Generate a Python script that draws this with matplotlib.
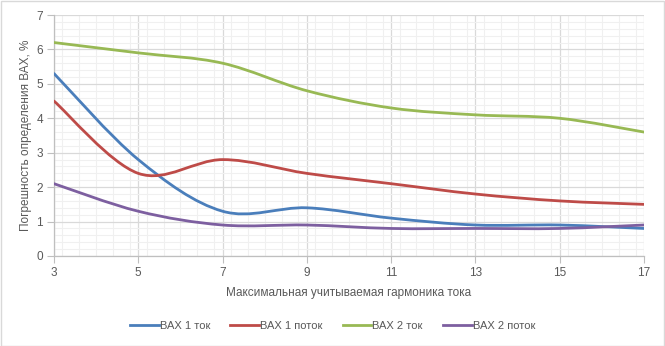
import matplotlib
matplotlib.use("Agg")
import matplotlib.pyplot as plt
from matplotlib.path import Path
from matplotlib.patches import PathPatch, Rectangle
from matplotlib.lines import Line2D
from matplotlib.ticker import MultipleLocator

plt.rcParams['font.family'] = ['Liberation Sans', 'DejaVu Sans']

harmonics = [3, 5, 7, 9, 11, 13, 15, 17]
vax1_current = [5.3, 2.8, 1.3, 1.4, 1.1, 0.9, 0.9, 0.8]
vax1_flux = [4.5, 2.4, 2.8, 2.4, 2.1, 1.8, 1.6, 1.5]
vax2_current = [6.2, 5.9, 5.6, 4.8, 4.3, 4.1, 4.0, 3.6]
vax2_flux = [2.1, 1.3, 0.9, 0.9, 0.8, 0.8, 0.8, 0.9]
series_names = ["ВАХ 1 ток", "ВАХ 1 поток", "ВАХ 2 ток", "ВАХ 2 поток"]
colors = ["#4a7ebb", "#be4b48", "#98b954", "#7d5fa0"]

TEXT = "#595959"
GRID = "#d9d9d9"
MINOR = "#f0f0f0"

fig = plt.figure(figsize=(6.65, 3.46), dpi=100)
W, H = 665, 346
ax = fig.add_axes([54 / W, (H - 256) / H, (644 - 54) / W, (256 - 15) / H])


def smooth_path(xs, ys):
    # Excel-style smoothed line: cubic Bezier segments
    n = len(xs)
    verts = [(xs[0], ys[0])]
    codes = [Path.MOVETO]
    for i in range(n - 1):
        x0, y0 = (xs[i - 1], ys[i - 1]) if i > 0 else (xs[i], ys[i])
        x1, y1 = xs[i], ys[i]
        x2, y2 = xs[i + 1], ys[i + 1]
        x3, y3 = (xs[i + 2], ys[i + 2]) if i + 2 < n else (xs[i + 1], ys[i + 1])
        c1 = (x1 + (x2 - x0) / 6, y1 + (y2 - y0) / 6)
        c2 = (x2 - (x3 - x1) / 6, y2 - (y3 - y1) / 6)
        verts += [c1, c2, (x2, y2)]
        codes += [Path.CURVE4] * 3
    return Path(verts, codes)


for ys, c in zip([vax1_current, vax1_flux, vax2_current, vax2_flux], colors):
    p = PathPatch(smooth_path(harmonics, ys), facecolor="none", edgecolor=c,
                  lw=2.0, zorder=3, capstyle="round", joinstyle="round")
    ax.add_patch(p)

ax.set_xlim(3, 17)
ax.set_ylim(0, 7)
ax.xaxis.set_major_locator(MultipleLocator(2))
ax.xaxis.set_minor_locator(MultipleLocator(0.4))
ax.yaxis.set_major_locator(MultipleLocator(1))
ax.yaxis.set_minor_locator(MultipleLocator(0.2))
ax.grid(which="minor", color=MINOR, lw=0.8, zorder=0)
ax.grid(which="major", color=GRID, lw=0.9, zorder=1)
ax.set_axisbelow(True)
for s in ["top", "right"]:
    ax.spines[s].set_visible(False)
for s in ["left", "bottom"]:
    ax.spines[s].set_color("#bfbfbf")
    ax.spines[s].set_linewidth(0.9)
ax.tick_params(axis="x", which="major", length=5, color="#bfbfbf", labelsize=8.5,
               labelcolor=TEXT, pad=3)
ax.tick_params(axis="y", which="major", length=5, color="#bfbfbf", labelsize=8.5,
               labelcolor=TEXT, pad=3)
ax.tick_params(which="minor", length=0)
ax.set_xticks(harmonics)
ax.set_xticklabels([str(h) for h in harmonics])

ax.set_xlabel("Максимальная учитываемая гармоника тока", fontsize=8.5, color=TEXT, labelpad=6)
ax.set_ylabel("Погрешность определения ВАХ, %", fontsize=8.5, color=TEXT, labelpad=3)

handles = [Line2D([0], [0], color=c, lw=2) for c in colors]
fig.legend(handles, series_names, loc="center", bbox_to_anchor=(0.5, (H - 326) / H),
           ncol=4, frameon=False, fontsize=8, labelcolor=TEXT, handlelength=2.6,
           handletextpad=0.1, columnspacing=1.8)

fig.add_artist(Rectangle((0.5 / W, 0.5 / H), 1 - 1.5 / W, 1 - 1.5 / H, transform=fig.transFigure,
                         facecolor="none", edgecolor="#d9d9d9", lw=1))

fig.savefig("out.png", dpi=100)
